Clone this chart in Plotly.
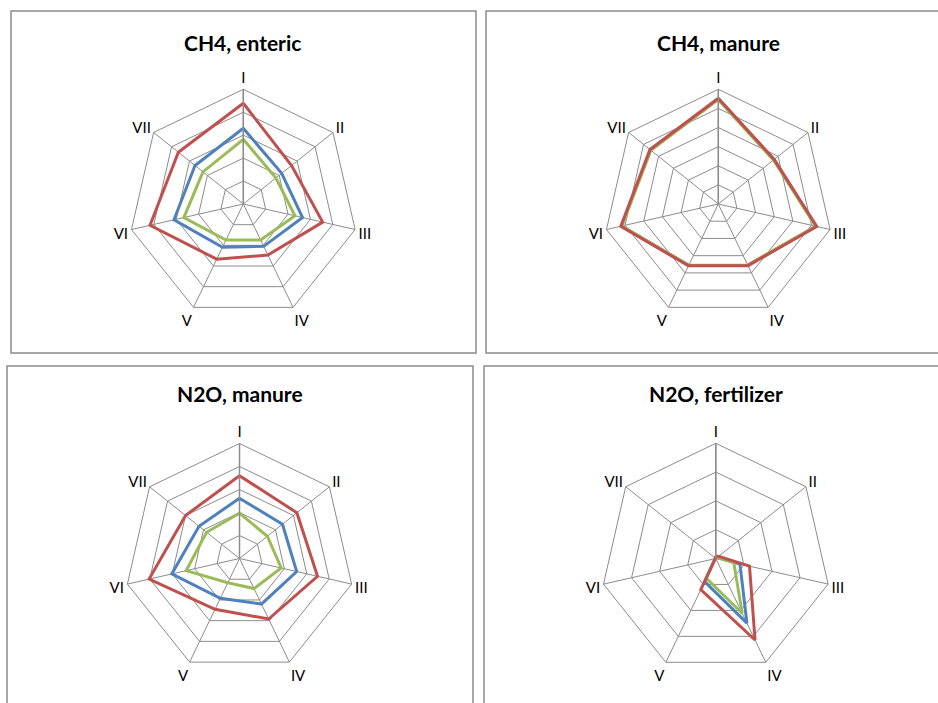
import plotly.graph_objects as go

W, H = 938, 703

categories = ["I", "II", "III", "IV", "V", "VI", "VII"]

titles = ["CH4, enteric", "CH4, manure", "N2O, manure", "N2O, fertilizer"]

# values in units of grid rings
ch4_enteric_blue = [3.30, 2.14, 2.65, 2.05, 2.09, 3.10, 2.69]
ch4_enteric_green = [2.82, 1.82, 2.31, 1.74, 1.74, 2.66, 2.25]
ch4_enteric_red = [4.39, 2.69, 3.55, 2.47, 2.67, 4.17, 3.62]

ch4_manure_blue = [5.50, 3.72, 5.25, 3.56, 3.57, 5.20, 4.54]
ch4_manure_green = [5.46, 3.69, 5.22, 3.54, 3.55, 5.17, 4.51]
ch4_manure_red = [5.53, 3.74, 5.28, 3.58, 3.59, 5.23, 4.57]

n2o_manure_blue = [2.62, 2.39, 2.55, 2.20, 1.92, 3.02, 2.25]
n2o_manure_green = [1.97, 1.55, 1.86, 1.45, 1.17, 2.38, 1.83]
n2o_manure_red = [3.60, 3.19, 3.48, 2.92, 2.45, 4.03, 3.00]

n2o_fert_blue = [0.06, 0.06, 0.86, 2.49, 0.89, 0.02, 0.02]
n2o_fert_green = [0.05, 0.05, 0.64, 2.11, 0.76, 0.02, 0.02]
n2o_fert_red = [0.08, 0.12, 1.20, 3.14, 1.20, 0.02, 0.02]

ring_counts = [5, 6, 5, 4]

panels = [
    (ch4_enteric_blue, ch4_enteric_green, ch4_enteric_red),
    (ch4_manure_blue, ch4_manure_green, ch4_manure_red),
    (n2o_manure_blue, n2o_manure_green, n2o_manure_red),
    (n2o_fert_blue, n2o_fert_green, n2o_fert_red),
]

colors = ["#4F81BD", "#9BBB59", "#C0504D"]

# layout geometry (pixels)
centers = [(243.3, 204.0, 114.7), (718.3, 204.0, 114.7), (239.5, 558.5, 115.0), (715.8, 558.5, 115.2)]
title_pos = [(243, 42), (718, 42), (240, 393), (716, 393)]
boxes = [(11, 11, 476, 353), (486, 11, 945, 353), (7, 366, 473, 710), (484, 366, 945, 710)]

fig = go.Figure()

for i, (series, nr) in enumerate(zip(panels, ring_counts)):
    pkey = "polar" if i == 0 else f"polar{i+1}"
    for vals, col in zip(series, colors):
        fig.add_trace(go.Scatterpolar(
            r=list(vals) + [vals[0]],
            theta=categories + [categories[0]],
            mode="lines",
            line=dict(color=col, width=3),
            subplot=pkey,
            showlegend=False,
            hoverinfo="skip",
        ))
    cx, cy, R = centers[i]
    fig.layout[pkey] = dict(
        domain=dict(x=[(cx - R) / W, (cx + R) / W], y=[1 - (cy + R) / H, 1 - (cy - R) / H]),
        gridshape="linear",
        bgcolor="rgba(0,0,0,0)",
        angularaxis=dict(
            direction="clockwise", rotation=90,
            categoryorder="array", categoryarray=categories,
            showline=True, linecolor="#8C8C8C", linewidth=1,
            showgrid=True, gridcolor="#8C8C8C", gridwidth=1,
            ticks="", tickfont=dict(family="Lato, Arial", size=15, color="#000000"),
        ),
        radialaxis=dict(
            range=[0, nr], dtick=1, tick0=0,
            showgrid=True, gridcolor="#8C8C8C", gridwidth=1,
            showline=True, linecolor="#8C8C8C", linewidth=1.5, angle=90,
            showticklabels=False, ticks="",
        ),
    )
    x0, y0, x1, y1 = boxes[i]
    fig.add_shape(type="rect", xref="paper", yref="paper",
                  x0=x0 / W, x1=x1 / W, y0=1 - y1 / H, y1=1 - y0 / H,
                  line=dict(color="#8C8C8C", width=1.5), layer="below")
    tx, ty = title_pos[i]
    fig.add_annotation(x=tx / W, y=1 - ty / H, xref="paper", yref="paper",
                       text="<b>" + titles[i] + "</b>", showarrow=False,
                       font=dict(family="Lato, Arial", size=21, color="#000000"),
                       xanchor="center", yanchor="middle")

fig.update_layout(
    width=W, height=H,
    margin=dict(l=0, r=0, t=0, b=0),
    paper_bgcolor="white",
    plot_bgcolor="white",
    showlegend=False,
)

fig.write_html("out.html", config={"displayModeBar": False},
               post_script="document.body.style.margin='0';document.body.style.overflow='hidden';")
